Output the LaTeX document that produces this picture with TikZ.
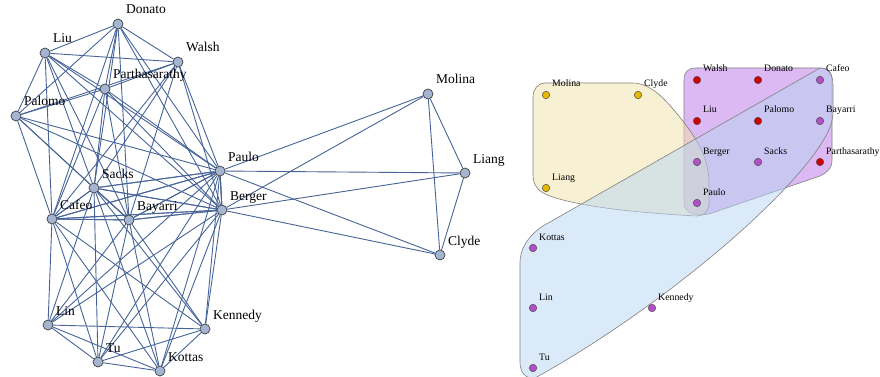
\documentclass[tikz,border=0pt]{standalone}
\usepackage{fontspec}
\setmainfont{Liberation Serif}
\usetikzlibrary{backgrounds}

\definecolor{edgeblue}{RGB}{70,100,152}
\definecolor{vertfill}{RGB}{163,181,209}
\definecolor{commgold}{RGB}{230,185,0}
\definecolor{commred}{RGB}{210,0,0}
\definecolor{commpurple}{RGB}{178,80,200}
\definecolor{hullyellow}{RGB}{241,225,167}
\definecolor{hullpurple}{RGB}{185,115,229}
\definecolor{hullblue}{RGB}{183,213,241}

\begin{document}
\begin{tikzpicture}[x=1pt, y=-1pt,
  vertex/.style={circle, draw=black!75, fill=vertfill, line width=0.7pt, inner sep=0pt, minimum size=10pt},
  link/.style={draw=edgeblue, line width=0.9pt},
  name tag/.style={anchor=base west, inner sep=0pt, font=\fontsize{13.5}{15}\selectfont, xshift=8pt, yshift=10pt},
  dot/.style={circle, draw=black!70, line width=0.5pt, inner sep=0pt, minimum size=7.5pt},
  small tag/.style={anchor=base west, inner sep=0pt, font=\fontsize{9.8}{11}\selectfont, xshift=6pt, yshift=8pt},
  hull/.style={draw=black!50, line width=0.6pt, fill opacity=0.5}]
\useasboundingbox (0,0) rectangle (880,377);

% graph
\foreach \name/\x/\y in {Donato/118/24, Liu/45/53, Walsh/178/62, Parthasarathy/105/89, Palomo/16/116,
    Sacks/94/188, Paulo/220/171, Berger/222/210, Cafeo/52/219, Bayarri/129/220, Lin/48/325,
    Kennedy/205/329, Tu/98/362, Kottas/160/371, Molina/428/94, Liang/465/173, Clyde/440/255}
  {\node[vertex] (g\name) at (\x,\y) {};
   \node[name tag] (t\name) at (g\name.center) {\name};}

\begin{scope}[on background layer]
\foreach \group in {{Molina,Clyde,Liang,Paulo,Berger},
    {Walsh,Donato,Cafeo,Liu,Palomo,Bayarri,Berger,Sacks,Parthasarathy,Paulo},
    {Cafeo,Bayarri,Berger,Sacks,Paulo,Kottas,Lin,Kennedy,Tu}}
  \foreach \a [count=\i] in \group
    \foreach \b [count=\j] in \group
      {\ifnum\i<\j \draw[link] (g\a) -- (g\b); \fi}
\end{scope}

% communities
\path[hull, fill=hullpurple] (696,68) -- (820,68) .. controls (828,68) and (832,72) .. (832,80)
  -- (832,160) .. controls (832,168) and (828,172) .. (820,176) -- (712,213)
  .. controls (700,217) and (684,215) .. (684,203) -- (684,80) .. controls (684,72) and (688,68) .. (696,68) -- cycle;
\path[hull, fill=hullyellow] (545,83) -- (632,83) .. controls (650,83) and (664,97) .. (682,120)
  .. controls (700,143) and (709,160) .. (709,185) -- (709,204) .. controls (709,211) and (704,216) .. (697,216)
  .. controls (640,213) and (580,207) .. (550,196) .. controls (538,192) and (533,185) .. (533,175)
  -- (533,97) .. controls (533,89) and (538,83) .. (545,83) -- cycle;
\path[hull, fill=hullblue] (820,68) .. controls (828,68) and (833,74) .. (833,85) -- (833,112)
  .. controls (833,125) and (826,138) .. (812,157) .. controls (760,225) and (640,320) .. (535,378)
  .. controls (525,379) and (520,372) .. (520,362) -- (520,262) .. controls (520,248) and (530,232) .. (550,222)
  -- cycle;

\foreach \name/\x/\y/\c in {Molina/546/95/commgold, Clyde/638/95/commgold, Liang/546/188/commgold,
    Walsh/697/80/commred, Donato/758/80/commred, Cafeo/820/80/commpurple,
    Liu/697/121/commred, Palomo/758/121/commred, Bayarri/820/121/commpurple,
    Berger/697/162/commpurple, Sacks/758/162/commpurple, Parthasarathy/820/162/commred,
    Paulo/697/203/commpurple, Kottas/533/248/commpurple, Lin/533/308/commpurple,
    Tu/533/368/commpurple, Kennedy/652/308/commpurple}
  {\node[dot, fill=\c] (c\name) at (\x,\y) {};
   \node[small tag] (s\name) at (c\name.center) {\name};}
\end{tikzpicture}
\end{document}
